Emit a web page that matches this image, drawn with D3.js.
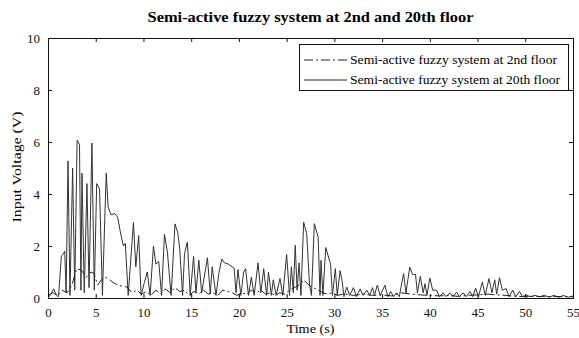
<!DOCTYPE html>
<html>
<head>
<meta charset="utf-8">
<script src="https://cdn.jsdelivr.net/npm/d3@7"></script>
<style>
  html, body { margin: 0; padding: 0; background: #fff; }
  svg { display: block; }
  .tick text { font-family: "Liberation Serif", serif; font-size: 13px; fill: #111; }
  .tick line { stroke: #111; }
  .domain { stroke: none; }
</style>
</head>
<body>
<svg id="chart" width="579" height="338"></svg>
<script>
// Tick values
const xTicks = [0, 5, 10, 15, 20, 25, 30, 35, 40, 45, 50, 55];
const yTicks = [0, 2, 4, 6, 8, 10];

// Input voltage at the 20th floor (time in s, voltage in V), turning points
const time20 = [0, 0.3, 0.6, 0.9, 1.1, 1.4, 1.6, 1.75, 1.9, 2.1, 2.3, 2.58, 2.8, 3.05, 3.3, 3.45, 3.56, 3.8, 4.08, 4.3,
  4.6, 4.85, 5.1, 5.4, 5.7, 6.1, 6.3, 6.6, 7.0, 7.3, 7.6, 7.9, 8.1, 8.4, 8.95, 9.2, 9.5, 9.75, 10.1, 10.4,
  10.7, 11.05, 11.3, 11.6, 11.9, 12.2, 12.5, 12.9, 13.3, 13.6, 13.8, 14.1, 14.3, 14.6, 14.9, 15.25, 15.5, 15.8, 16.1, 16.7,
  17.0, 17.2, 17.6, 17.9, 18.2, 18.5, 18.9, 19.3, 19.5, 19.7, 19.9, 20.2, 20.5, 20.7, 21.0, 21.3, 21.6, 22.0, 22.3, 22.6,
  22.9, 23.1, 23.4, 23.6, 23.9, 24.3, 24.6, 25.0, 25.3, 25.5, 25.7, 25.9, 26.1, 26.3, 26.5, 26.78, 27.1, 27.4, 27.6, 27.9,
  28.3, 28.5, 28.6, 28.8, 29.1, 29.6, 29.8, 30.1, 30.3, 30.6, 30.8, 31.0, 31.3, 31.6, 32.0, 32.3, 32.7, 33.0, 33.4, 33.7,
  34.0, 34.2, 34.5, 34.8, 35.3, 35.6, 35.9, 36.2, 36.5, 36.8, 37.25, 37.5, 37.9, 38.2, 38.5, 38.7, 39.0, 39.3, 39.5, 39.7,
  40.0, 40.3, 40.7, 41.0, 41.4, 41.7, 42.1, 42.4, 42.8, 43.1, 43.5, 43.8, 44.2, 44.5, 44.8, 45.1, 45.5, 45.8, 46.2, 46.5,
  46.8, 47.0, 47.3, 47.6, 48.0, 48.3, 48.7, 49.0, 49.4, 49.7, 50.1, 50.5, 51.0, 51.5, 52.0, 52.5, 53.0, 53.5, 54.0, 54.5, 55.0];
const volt20 = [0, 0.15, 0.35, 0.1, 0.05, 1.6, 1.7, 1.8, 0.2, 5.27, 0.1, 5.0, 0.3, 6.07, 5.9, 0.3, 4.8, 0.2, 4.4, 0.4,
  5.96, 0.3, 4.4, 4.2, 0.1, 4.8, 3.5, 3.2, 3.25, 3.1, 2.5, 2.0, 2.1, 0.1, 2.9, 1.2, 2.4, 0.1, 0.6, 1.0,
  0.1, 2.0, 1.3, 1.4, 0.1, 2.45, 1.8, 0.1, 2.85, 2.5, 1.9, 0.1, 1.7, 2.15, 0.1, 1.6, 0.2, 1.45, 0.2, 1.55,
  0.15, 1.2, 0.1, 0.95, 1.5, 1.35, 1.3, 1.2, 1.15, 0.2, 1.1, 0.1, 1.0, 1.13, 0.1, 0.8, 0.1, 1.35, 0.2, 1.13,
  0.1, 1.0, 0.1, 0.7, 0.1, 0.75, 0.1, 1.68, 0.1, 1.2, 0.2, 2.03, 0.3, 1.35, 0.1, 2.92, 2.47, 0.5, 0.1, 2.86,
  2.35, 0.1, 1.45, 0.1, 1.94, 1.3, 0.1, 1.13, 0.1, 1.05, 0.68, 0.05, 0.42, 0.1, 0.4, 0.05, 0.35, 0.1, 0.3, 0.1,
  0.4, 0.1, 0.5, 0.1, 0.49, 0.05, 0.25, 0.05, 0.2, 0.05, 0.94, 0.2, 1.19, 0.9, 0.9, 0.2, 0.83, 0.2, 0.55, 0.1,
  0.77, 0.3, 0.3, 0.05, 0.2, 0.05, 0.2, 0.05, 0.22, 0.05, 0.2, 0.05, 0.25, 0.05, 0.38, 0.05, 0.62, 0.1, 0.75, 0.2,
  0.7, 0.15, 0.78, 0.3, 0.36, 0.05, 0.3, 0.05, 0.25, 0.05, 0.12, 0.05, 0.1, 0.05, 0.1, 0.03, 0.1, 0.03, 0.1, 0.03, 0.08];

// Input voltage at the 2nd floor
const time2 = [0, 0.5, 1.0, 1.5, 2.0, 2.5, 3.0, 3.5, 4.0, 4.5, 4.8, 5.2, 5.6, 5.9, 6.3, 6.8, 7.3, 7.8, 8.3, 8.8,
  9.3, 9.8, 10.3, 10.8, 11.3, 11.8, 12.3, 12.8, 13.3, 13.8, 14.3, 14.8, 15.3, 15.8, 16.3, 16.8, 17.3, 17.8, 18.3, 18.8,
  19.3, 19.8, 20.3, 20.8, 21.3, 21.8, 22.3, 22.8, 23.3, 23.8, 24.3, 24.8, 25.3, 25.8, 26.3, 26.8, 27.3, 27.8, 28.3, 28.8,
  29.3, 29.8, 30.3, 31.0, 32.0, 33.0, 34.0, 35.0, 36.0, 37.0, 38.0, 39.0, 40.0, 41.0, 42.0, 43.0, 44.0, 45.0, 46.0, 47.0,
  48.0, 49.0, 50.0, 51.0, 52.0, 53.0, 54.0, 55.0];
const volt2 = [0.1, 0.2, 0.1, 0.3, 0.2, 0.5, 1.13, 1.07, 0.8, 1.0, 0.95, 0.5, 0.7, 0.8, 0.75, 0.6, 0.5, 0.45, 0.42, 0.2,
  0.3, 0.15, 0.25, 0.1, 0.3, 0.15, 0.35, 0.2, 0.4, 0.25, 0.3, 0.1, 0.25, 0.15, 0.3, 0.15, 0.2, 0.1, 0.3, 0.25,
  0.2, 0.1, 0.2, 0.15, 0.3, 0.2, 0.3, 0.15, 0.2, 0.1, 0.2, 0.15, 0.3, 0.4, 0.5, 0.7, 0.5, 0.4, 0.3, 0.2,
  0.15, 0.2, 0.1, 0.15, 0.1, 0.15, 0.1, 0.12, 0.08, 0.2, 0.15, 0.12, 0.1, 0.08, 0.1, 0.06, 0.1, 0.12, 0.15, 0.12,
  0.1, 0.06, 0.05, 0.06, 0.05, 0.06, 0.05, 0.05];

const legendLabels = ["Semi-active fuzzy system at 2nd floor", "Semi-active fuzzy system at 20th floor"];

const svg = d3.select("#chart");
const m = { left: 48, top: 38, right: 6, bottom: 40 };
const W = 579 - m.left - m.right;   // 525
const H = 338 - m.top - m.bottom;   // 260

const x = d3.scaleLinear().domain([0, 55]).range([0, W]);
const y = d3.scaleLinear().domain([0, 10]).range([H, 0]);

const g = svg.append("g").attr("transform", `translate(${m.left},${m.top})`);

// Data lines
const line = d3.line().x(d => x(d[0])).y(d => y(d[1]));
const s20 = time20.map((t, i) => [t, volt20[i]]);
const s2 = time2.map((t, i) => [t, volt2[i]]);

g.append("path").datum(s20).attr("d", line)
  .attr("fill", "none").attr("stroke", "#333").attr("stroke-width", 1);
g.append("path").datum(s2).attr("d", line)
  .attr("fill", "none").attr("stroke", "#222").attr("stroke-width", 1)
  .attr("stroke-dasharray", "9,3,2,3");

// Axes with inward ticks on all four sides
g.append("g").attr("transform", `translate(0,${H})`)
  .call(d3.axisBottom(x).tickValues(xTicks).tickSize(-4).tickPadding(10).tickFormat(d3.format("d")));
g.append("g")
  .call(d3.axisTop(x).tickValues(xTicks).tickSize(-4).tickFormat(""));
g.append("g")
  .call(d3.axisLeft(y).tickValues(yTicks).tickSize(-4).tickPadding(8).tickFormat(d3.format("d")));
g.append("g").attr("transform", `translate(${W},0)`)
  .call(d3.axisRight(y).tickValues(yTicks).tickSize(-4).tickFormat(""));

// Plot frame
g.append("rect").attr("x", 0.5).attr("y", 0.5).attr("width", W).attr("height", H)
  .attr("fill", "none").attr("stroke", "#111").attr("stroke-width", 1);

// Title and axis labels
svg.append("text").attr("x", m.left + W / 2).attr("y", 22)
  .attr("text-anchor", "middle")
  .style("font-family", "'Liberation Serif', serif").style("font-weight", "bold").style("font-size", "14px")
  .attr("textLength", 326).attr("lengthAdjust", "spacingAndGlyphs")
  .text("Semi-active fuzzy system at 2nd and 20th floor");

svg.append("text").attr("x", m.left + W / 2).attr("y", 333)
  .attr("text-anchor", "middle")
  .style("font-family", "'Liberation Serif', serif").style("font-size", "13px")
  .attr("textLength", 48).attr("lengthAdjust", "spacingAndGlyphs")
  .text("Time (s)");

svg.append("text")
  .attr("transform", `translate(21,${m.top + H / 2 - 1}) rotate(-90)`)
  .attr("text-anchor", "middle")
  .style("font-family", "'Liberation Serif', serif").style("font-size", "13px")
  .attr("textLength", 111).attr("lengthAdjust", "spacingAndGlyphs")
  .text("Input Voltage (V)");

// Legend
const lg = g.append("g").attr("transform", `translate(${W - 274},6)`);
lg.append("rect").attr("x", 0.5).attr("y", 0.5).attr("width", 269).attr("height", 46)
  .attr("fill", "#fff").attr("stroke", "#111");
const dashes = ["9,3,2,3", null];
const legendWidths = [207, 210];
legendLabels.forEach((lab, i) => {
  const yy = 16 + i * 20;
  lg.append("line").attr("x1", 5).attr("x2", 48).attr("y1", yy).attr("y2", yy)
    .attr("stroke", "#222").attr("stroke-dasharray", dashes[i]);
  lg.append("text").attr("x", 51).attr("y", yy + 4)
    .style("font-family", "'Liberation Serif', serif").style("font-size", "13px")
    .attr("textLength", legendWidths[i]).attr("lengthAdjust", "spacingAndGlyphs")
    .text(lab);
});
</script>
</body>
</html>
